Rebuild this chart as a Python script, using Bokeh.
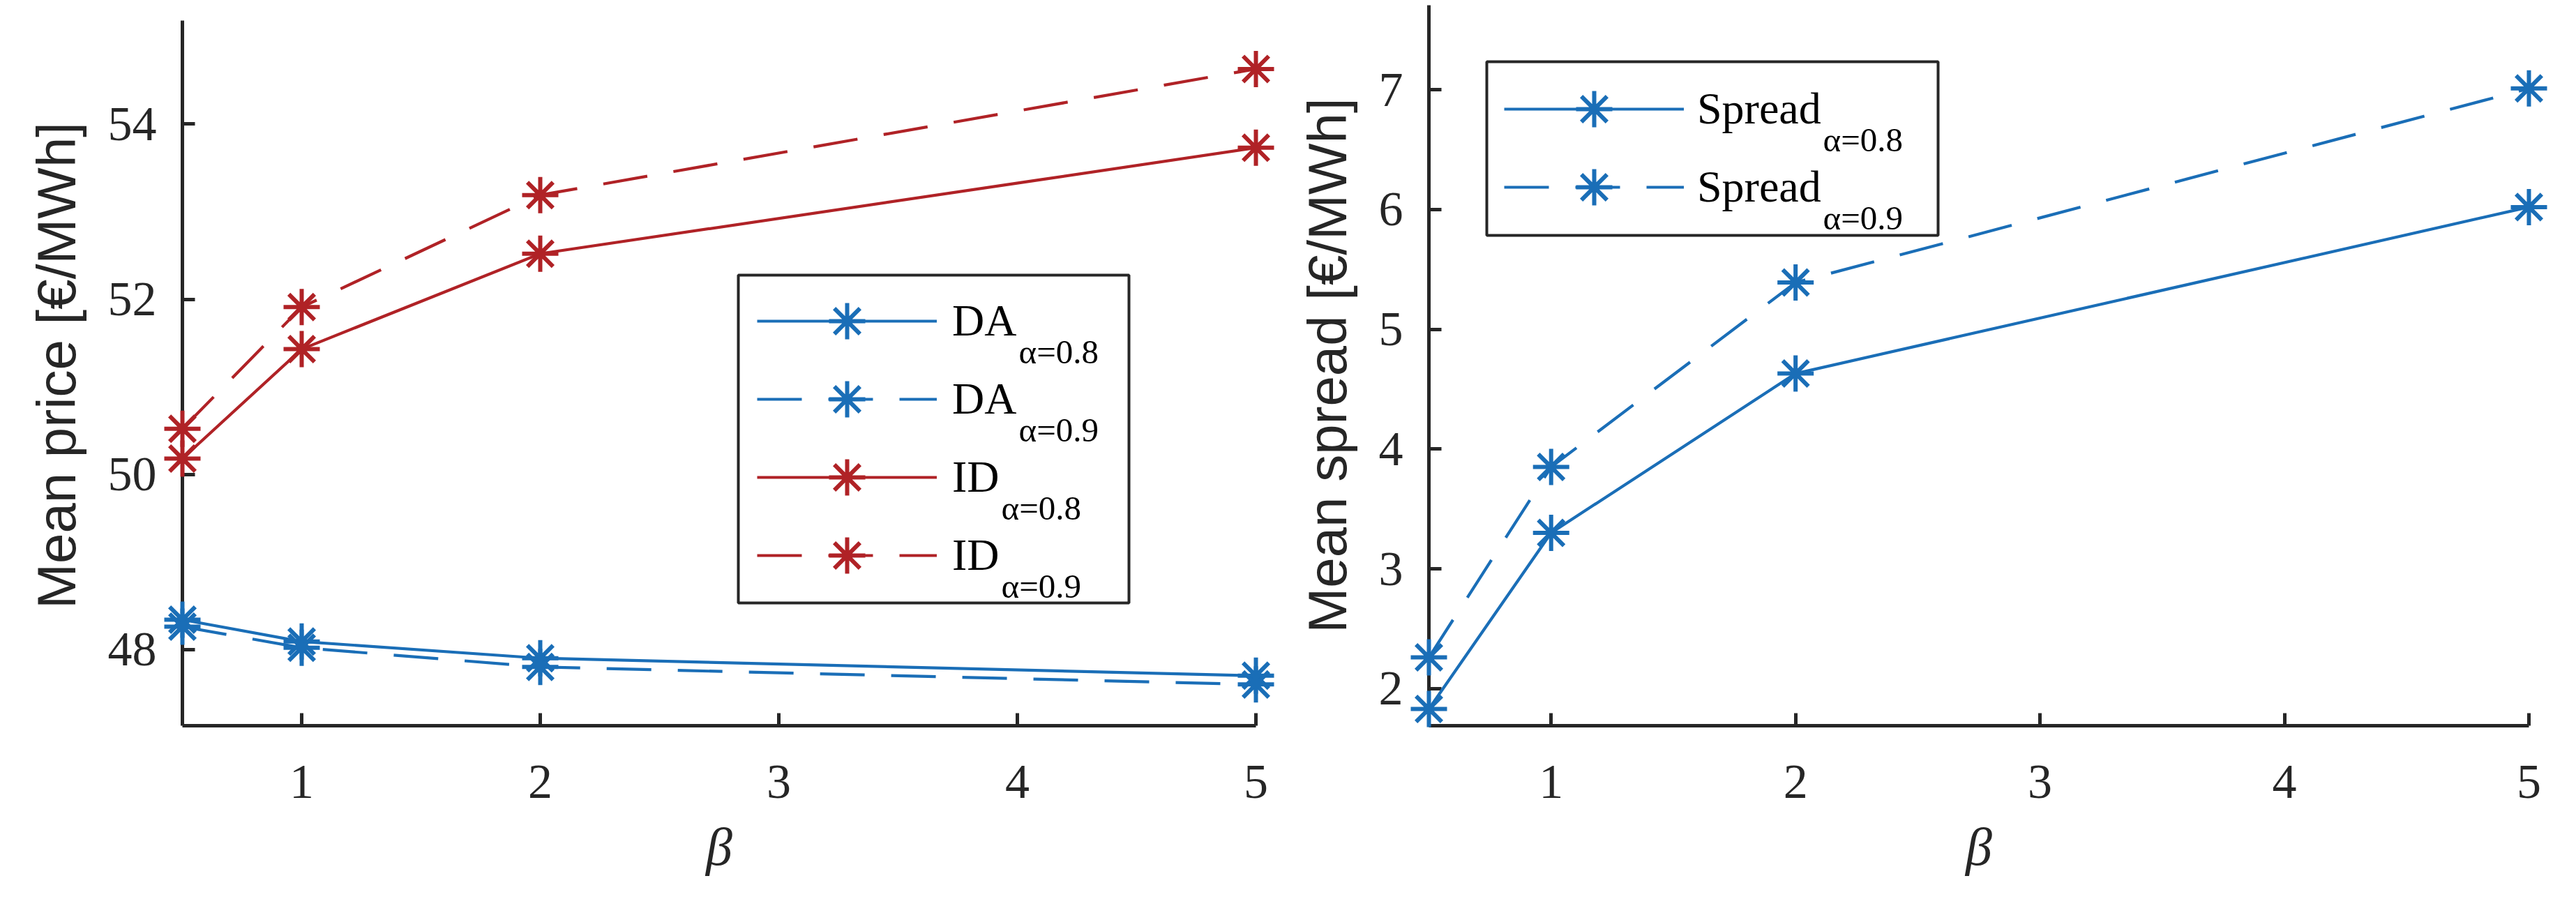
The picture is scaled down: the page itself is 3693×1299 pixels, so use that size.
from bokeh.plotting import figure
from bokeh.models import Range1d, FixedTicker, Legend, LegendItem, Label, BoxAnnotation
from bokeh.layouts import row
from bokeh.embed import file_html
from bokeh.resources import INLINE

# ---------------- data ----------------
beta = [0.5, 1, 2, 5]
da_08 = [48.34, 48.09, 47.90, 47.70]
da_09 = [48.26, 48.02, 47.80, 47.60]
id_08 = [50.18, 51.43, 52.52, 53.73]
id_09 = [50.52, 51.91, 53.19, 54.63]
spread_08 = [1.83, 3.30, 4.63, 6.02]
spread_09 = [2.26, 3.85, 5.39, 7.01]

x_ticks = [1, 2, 3, 4, 5]
price_ticks = [48, 50, 52, 54]
spread_ticks = [2, 3, 4, 5, 6, 7]
x_limits = (0.5, 5)
price_axis = (47.129, 55.183)      # extent of the drawn y axis
price_limits = (47.129, 55.358)    # view range (frames of both panels share the top)
spread_limits = (1.69, 7.705)

price_label = "Mean price [€/MWh]"
spread_label = "Mean spread [€/MWh]"
x_label = "β"
sub_08 = "α=0.8"
sub_09 = "α=0.9"

# ---------------- style ----------------
BLUE = "#1A6EB7"
RED = "#B02226"
AX = "#262626"
SOLID = "solid"
DASH = "64 38"

H = 1296
FRAME_TOP = 7
FRAME_BOTTOM = 1040


def make_fig(width, mbl, mbr, ylim, yticks, ylabel, ybounds):
    p = figure(width=width, height=H, x_range=Range1d(*x_limits), y_range=Range1d(*ylim),
               output_backend="svg", toolbar_location=None, title=None,
               min_border_left=mbl, min_border_right=mbr, min_border_top=FRAME_TOP,
               min_border_bottom=H - FRAME_BOTTOM)
    p.outline_line_color = None
    p.grid.visible = False
    p.background_fill_color = "white"
    p.border_fill_color = "white"
    p.xaxis.ticker = FixedTicker(ticks=x_ticks)
    p.yaxis.ticker = FixedTicker(ticks=yticks)
    p.yaxis.bounds = ybounds
    for ax in (p.xaxis[0], p.yaxis[0]):
        ax.axis_line_width = 5
        ax.axis_line_color = AX
        ax.major_tick_line_width = 5
        ax.major_tick_line_color = AX
        ax.major_tick_in = 18
        ax.major_tick_out = 0
        ax.minor_tick_line_color = None
        ax.major_label_text_font = "Liberation Serif"
        ax.major_label_text_font_size = "70px"
        ax.major_label_text_color = AX
        ax.axis_label_text_color = AX
    p.xaxis.axis_label = x_label
    p.xaxis.axis_label_text_font = "Liberation Serif"
    p.xaxis.axis_label_text_font_style = "italic"
    p.xaxis.axis_label_text_font_size = "76px"
    p.xaxis.major_label_standoff = 57
    p.xaxis.axis_label_standoff = 25
    p.yaxis.axis_label = ylabel
    p.yaxis.axis_label_text_font = "Liberation Sans"
    p.yaxis.axis_label_text_font_style = "normal"
    p.yaxis.axis_label_text_font_size = "78px"
    p.yaxis.major_label_standoff = 37
    p.yaxis.axis_label_standoff = 27
    return p


def add_series(p, y, color, dash):
    l = p.line(beta, y, line_color=color, line_width=4.2, line_dash=dash, level="overlay")
    s = p.scatter(beta, y, marker="asterisk", size=52, line_color=color, line_width=6,
                  level="overlay")
    return [l, s]


def px2data(frame, ylim, px, py):
    left, right, top, bottom = frame
    x = x_limits[0] + (px - left) / (right - left) * (x_limits[1] - x_limits[0])
    y = ylim[1] - (py - top) / (bottom - top) * (ylim[1] - ylim[0])
    return x, y


def add_legend(p, frame, ylim, items, glyph_left, first_row, standoff, box, sub_x):
    l, r, t, b = box
    x0, y0 = px2data(frame, ylim, l, b)
    x1, y1 = px2data(frame, ylim, r, t)
    p.add_layout(BoxAnnotation(left=x0, right=x1, bottom=y0, top=y1, fill_color="white",
                               fill_alpha=1, line_color=AX, line_width=4, line_alpha=1))
    for i, (lab, sub, rs) in enumerate(items):
        center = first_row + 112 * i
        leg = Legend(items=[LegendItem(label=lab, renderers=rs)],
                     location=(glyph_left - frame[0], FRAME_BOTTOM - (center + 65)),
                     orientation="vertical", padding=0, spacing=0, margin=0,
                     glyph_width=258, glyph_height=130, label_standoff=standoff,
                     label_width=60, label_text_font="Liberation Serif",
                     label_text_font_size="64px", label_text_color="black",
                     border_line_alpha=0, background_fill_alpha=0)
        p.add_layout(leg)
        x, y = px2data(frame, ylim, sub_x[i], center + 44)
        p.add_layout(Label(x=x, y=y, text=sub, text_font="Liberation Serif",
                           text_font_size="49px", text_color="black",
                           text_baseline="alphabetic", text_align="left"))


# ---------------- left: mean price ----------------
W1 = 1845
frame1 = (261, 1800, FRAME_TOP, FRAME_BOTTOM)
p1 = make_fig(W1, 261, W1 - 1800, price_limits, price_ticks, price_label, price_axis)
r_da8 = add_series(p1, da_08, BLUE, SOLID)
r_da9 = add_series(p1, da_09, BLUE, DASH)
r_id8 = add_series(p1, id_08, RED, SOLID)
r_id9 = add_series(p1, id_09, RED, DASH)
add_legend(p1, frame1, price_limits,
           [("DA", sub_08, r_da8), ("DA", sub_09, r_da9),
            ("ID", sub_08, r_id8), ("ID", sub_09, r_id9)],
           1085, 460, 22, (1058, 1618, 394, 864), [1460, 1460, 1435, 1435])

# ---------------- right: mean spread ----------------
W2 = 1845
frame2 = (2048, 3625, FRAME_TOP, FRAME_BOTTOM)
p2 = make_fig(W2, 2048 - W1, W1 + W2 - 3625, spread_limits, spread_ticks, spread_label,
              spread_limits)
r_s8 = add_series(p2, spread_08, BLUE, SOLID)
r_s9 = add_series(p2, spread_09, BLUE, DASH)
add_legend(p2, frame2, spread_limits,
           [("Spread", sub_08, r_s8), ("Spread", sub_09, r_s9)],
           2156, 156, 19, (2131, 2778, 88, 337), [2613, 2613])

layout = row(p1, p2)
open("out.html", "w").write(file_html(layout, INLINE))
